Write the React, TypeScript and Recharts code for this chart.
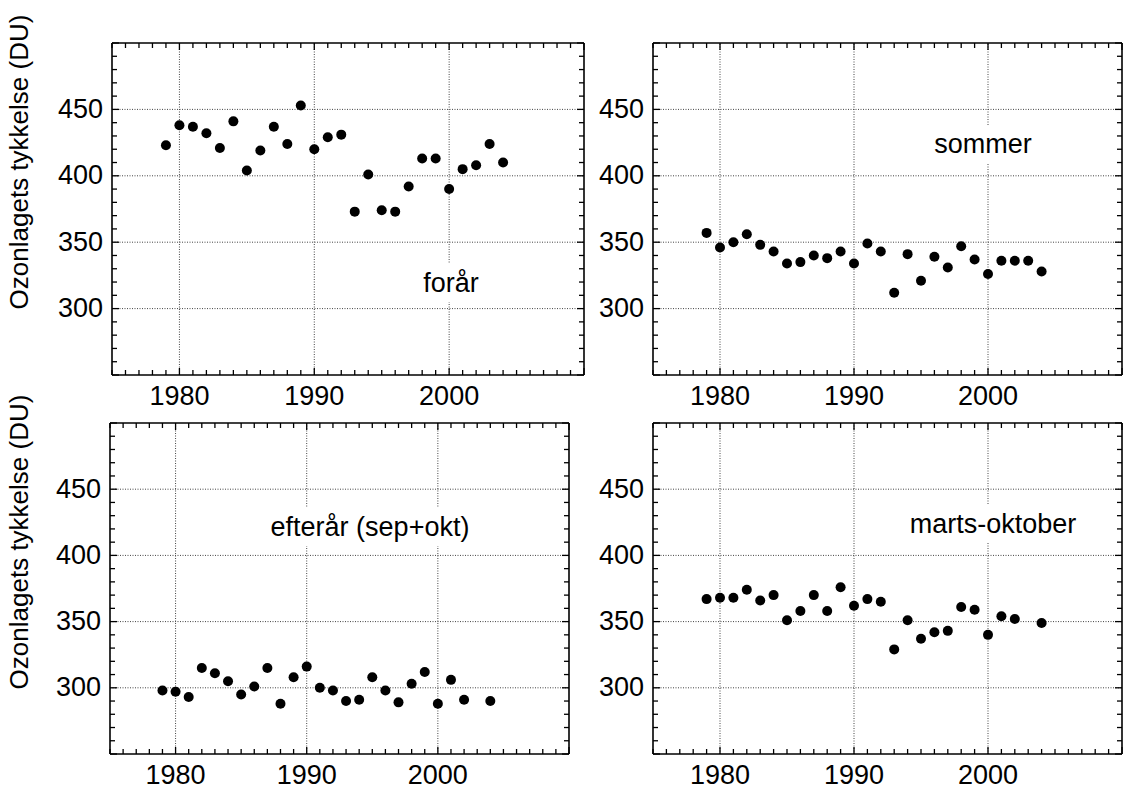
import React from "react";
import { ScatterChart, Scatter, XAxis, YAxis, ReferenceLine } from "recharts";

// ozone column thickness (DU), one value per year 1979-2004
const years = [
  1979, 1980, 1981, 1982, 1983, 1984, 1985, 1986, 1987, 1988, 1989, 1990, 1991,
  1992, 1993, 1994, 1995, 1996, 1997, 1998, 1999, 2000, 2001, 2002, 2003, 2004,
];
const forar = [
  423, 438, 437, 432, 421, 441, 404, 419, 437, 424, 453, 420, 429,
  431, 373, 401, 374, 373, 392, 413, 413, 390, 405, 408, 424, 410,
];
const sommer = [
  357, 346, 350, 356, 348, 343, 334, 335, 340, 338, 343, 334, 349,
  343, 312, 341, 321, 339, 331, 347, 337, 326, 336, 336, 336, 328,
];
const efterar = [
  298, 297, 293, 315, 311, 305, 295, 301, 315, 288, 308, 316, 300,
  298, 290, 291, 308, 298, 289, 303, 312, 288, 306, 291, null, 290,
];
const martsOktober = [
  367, 368, 368, 374, 366, 370, 351, 358, 370, 358, 376, 362, 367,
  365, 329, 351, 337, 342, 343, 361, 359, 340, 354, 352, null, 349,
];

const xMinorTicks = Array.from({ length: 36 }, (_, i) => 1975 + i);
const yMinorTicks = Array.from({ length: 26 }, (_, i) => 250 + i * 10);
const xLabels = [1980, 1990, 2000];
const yLabels = [300, 350, 400, 450];

const FONT = '"Liberation Sans", Arial, Helvetica, sans-serif';
const FS = 27;
const AX_LEFT = 70;
const AX_TOP = 10;
const AX_BOTTOM = 50;
const AX_RIGHT = 10;

const toPoints = (vals: (number | null)[]) =>
  years
    .map((year, i) => ({ year, v: vals[i] }))
    .filter((d) => d.v !== null);

const BottomTick = (p: any) => {
  const val = p.payload.value;
  const major = val % 10 === 0;
  return (
    <g>
      <line x1={p.x} x2={p.x} y1={p.y} y2={p.y - (major ? 7 : 5)} stroke="#000" strokeWidth={1.3} />
      {xLabels.includes(val) && (
        <text x={p.x} y={p.y + 30} textAnchor="middle" fontFamily={FONT} fontSize={FS} fill="#000">
          {val}
        </text>
      )}
    </g>
  );
};

const TopTick = (p: any) => {
  const major = p.payload.value % 10 === 0;
  return <line x1={p.x} x2={p.x} y1={p.y} y2={p.y + (major ? 7 : 5)} stroke="#000" strokeWidth={1.3} />;
};

const LeftTick = (p: any) => {
  const val = p.payload.value;
  const major = val % 50 === 0;
  return (
    <g>
      <line x1={p.x} x2={p.x + (major ? 7 : 5)} y1={p.y} y2={p.y} stroke="#000" strokeWidth={1.3} />
      {yLabels.includes(val) && (
        <text x={p.x - 9} y={p.y + 8.5} textAnchor="end" fontFamily={FONT} fontSize={FS} fill="#000">
          {val}
        </text>
      )}
    </g>
  );
};

const RightTick = (p: any) => {
  const major = p.payload.value % 50 === 0;
  return <line x1={p.x} x2={p.x - (major ? 7 : 5)} y1={p.y} y2={p.y} stroke="#000" strokeWidth={1.3} />;
};

const Dot = (p: any) => <circle cx={p.cx} cy={p.cy} r={5} fill="#000" />;

type PanelProps = {
  x: number;
  y: number;
  w: number;
  h: number;
  values: (number | null)[];
};

const Panel = ({ x, y, w, h, values }: PanelProps) => {
  const data = toPoints(values);
  const axisLine = { stroke: "#000", strokeWidth: 1.6 };
  return (
    <div style={{ position: "absolute", left: x - AX_LEFT, top: y - AX_TOP }}>
      <ScatterChart
        width={w + AX_LEFT + AX_RIGHT}
        height={h + AX_TOP + AX_BOTTOM}
        margin={{ top: 0, right: 0, bottom: 0, left: 0 }}
      >
        <XAxis
          xAxisId="b"
          dataKey="year"
          type="number"
          domain={[1975, 2010]}
          allowDataOverflow
          ticks={xMinorTicks}
          interval={0}
          height={AX_BOTTOM}
          tickSize={0}
          tickMargin={0}
          tickLine={false}
          axisLine={axisLine}
          tick={<BottomTick />}
        />
        <XAxis
          xAxisId="t"
          orientation="top"
          dataKey="year"
          type="number"
          domain={[1975, 2010]}
          allowDataOverflow
          ticks={xMinorTicks}
          interval={0}
          height={AX_TOP}
          tickSize={0}
          tickMargin={0}
          tickLine={false}
          axisLine={axisLine}
          tick={<TopTick />}
        />
        <YAxis
          yAxisId="l"
          dataKey="v"
          type="number"
          domain={[250, 500]}
          allowDataOverflow
          ticks={yMinorTicks}
          interval={0}
          width={AX_LEFT}
          tickSize={0}
          tickMargin={0}
          tickLine={false}
          axisLine={axisLine}
          tick={<LeftTick />}
        />
        <YAxis
          yAxisId="r"
          orientation="right"
          dataKey="v"
          type="number"
          domain={[250, 500]}
          allowDataOverflow
          ticks={yMinorTicks}
          interval={0}
          width={AX_RIGHT}
          tickSize={0}
          tickMargin={0}
          tickLine={false}
          axisLine={axisLine}
          tick={<RightTick />}
        />
        {xLabels.map((yr) => (
          <ReferenceLine key={`gx${yr}`} xAxisId="b" yAxisId="l" x={yr} stroke="#444" strokeWidth={1} strokeDasharray="1 1.5" />
        ))}
        {yLabels.map((v) => (
          <ReferenceLine key={`gy${v}`} xAxisId="b" yAxisId="l" y={v} stroke="#444" strokeWidth={1} strokeDasharray="1 1.5" />
        ))}
        <Scatter xAxisId="b" yAxisId="l" data={data} shape={<Dot />} isAnimationActive={false} />
        <Scatter xAxisId="t" yAxisId="r" data={data} shape={() => <g />} isAnimationActive={false} />
      </ScatterChart>
    </div>
  );
};

const Note = ({ x, y, text }: { x: number; y: number; text: string }) => (
  <div
    style={{
      position: "absolute",
      left: x,
      top: y,
      transform: "translate(-50%, -50%)",
      background: "#fff",
      padding: "3px 5px",
      fontFamily: FONT,
      fontSize: FS,
      lineHeight: "32px",
      whiteSpace: "nowrap",
      color: "#000",
    }}
  >
    {text}
  </div>
);

export default function App() {
  return (
    <div style={{ position: "absolute", left: 0, top: 0, width: 1125, height: 787, background: "#fff", overflow: "hidden" }}>
      <Panel x={112} y={43} w={472} h={332} values={forar} />
      <Panel x={653} y={43} w={469} h={332} values={sommer} />
      <Panel x={110} y={423} w={459} h={331} values={efterar} />
      <Panel x={653} y={423} w={469} h={331} values={martsOktober} />

      <Note x={451} y={283} text="forår" />
      <Note x={983} y={144} text="sommer" />
      <Note x={370} y={527} text="efterår (sep+okt)" />
      <Note x={993} y={524} text="marts-oktober" />

      <svg width={1125} height={787} style={{ position: "absolute", left: 0, top: 0, pointerEvents: "none" }}>
        <text transform="translate(28, 162) rotate(-90)" textAnchor="middle" fontFamily={FONT} fontSize={26} fill="#000">
          Ozonlagets tykkelse (DU)
        </text>
        <text transform="translate(28, 542) rotate(-90)" textAnchor="middle" fontFamily={FONT} fontSize={26} fill="#000">
          Ozonlagets tykkelse (DU)
        </text>
      </svg>
    </div>
  );
}
